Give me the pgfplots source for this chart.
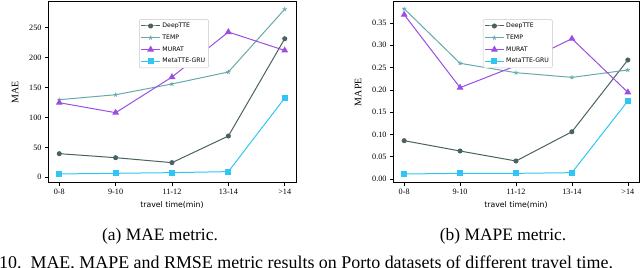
\documentclass[border=0pt]{standalone}
\usepackage{pgfplots}
\pgfplotsset{compat=1.18}
\usepackage{fontspec}
\setmainfont{Liberation Serif}
\setsansfont{DejaVu Sans}
\definecolor{cDeep}{HTML}{4A6262}
\definecolor{cTemp}{HTML}{66AAAA}
\definecolor{cMurat}{HTML}{9B4DE6}
\definecolor{cMeta}{HTML}{30C5F5}
\pgfplotsset{
  common/.style={
    scale only axis,
    xmin=-0.2, xmax=4.2,
    xtick={0,1,2,3,4},
    xticklabels={0-8,9-10,11-12,13-14,>14},
    tick align=outside,
    xtick pos=bottom, ytick pos=left,
    major tick length=3bp,
    tick style={line width=0.5bp, black},
    axis line style={line width=0.6bp},
    /pgf/number format/assume math mode=true,
    tick label style={font=\fontsize{8.2}{9}\selectfont},
    xlabel={travel time(min)},
    xlabel style={font=\fontsize{7.8}{9}\sffamily, at={(axis description cs:0.5,-0.085)}, anchor=north},
    ylabel style={font=\fontsize{10}{12}\selectfont, rotate=0},
    legend cell align=left,
    legend style={font=\fontsize{6.2}{7}\sffamily, draw=black!22, rounded corners=1.5bp,
      anchor=north west, inner sep=1.5bp, row sep=1.8bp, line width=0.5bp},
    legend image code/.code={
      \draw[mark repeat=2,mark phase=2] plot coordinates {(0cm,0cm) (0.33cm,0cm) (0.66cm,0cm)};
    },
    every axis plot/.append style={line width=1bp},
  },
  deep/.style={color=cDeep, mark=*, mark size=2bp},
  temp/.style={color=cTemp, mark=star, mark size=2.2bp, mark options={line width=0.8bp}},
  murat/.style={color=cMurat, mark=triangle*, mark size=3bp},
  meta/.style={color=cMeta, mark=square*, mark size=2.4bp},
}
\begin{document}
\begin{tikzpicture}
\useasboundingbox (0bp,0bp) rectangle (640bp,268bp);
\begin{axis}[common,
  at={(48bp,85.3bp)}, anchor=south west, width=248bp, height=181bp,
  ymin=-9, ymax=293.5, ytick={0,50,100,150,200,250},
  ylabel={MAE}, ylabel style={at={(axis description cs:-0.133,0.5)}, anchor=center},
  legend style={at={(0.367,0.903)}},
]
\addplot[deep] coordinates {(0,39.5) (1,32.8) (2,24.5) (3,69) (4,231.6)};
\addlegendentry{DeepTTE}
\addplot[temp] coordinates {(0,129.7) (1,138) (2,156) (3,176) (4,281)};
\addlegendentry{TEMP}
\addplot[murat] coordinates {(0,124.7) (1,108) (2,167.6) (3,242.8) (4,212)};
\addlegendentry{MURAT}
\addplot[meta] coordinates {(0,5.6) (1,6.7) (2,7.8) (3,9.5) (4,132.5)};
\addlegendentry{MetaTTE-GRU}
\end{axis}
\begin{axis}[common,
  at={(393bp,85.3bp)}, anchor=south west, width=246bp, height=181bp,
  ymin=-0.0083, ymax=0.3978, ytick={0,0.05,0.1,0.15,0.2,0.25,0.3,0.35},
  yticklabel style={/pgf/number format/.cd, fixed, fixed zerofill, precision=2},
  ylabel={MAPE}, ylabel style={at={(axis description cs:-0.142,0.5)}, anchor=center},
  legend style={at={(0.365,0.903)}},
]
\addplot[deep] coordinates {(0,0.086) (1,0.0628) (2,0.0404) (3,0.106) (4,0.267)};
\addlegendentry{DeepTTE}
\addplot[temp] coordinates {(0,0.382) (1,0.2596) (2,0.2385) (3,0.228) (4,0.2446)};
\addlegendentry{TEMP}
\addplot[murat] coordinates {(0,0.3687) (1,0.205) (2,0.254) (3,0.3148) (4,0.1945)};
\addlegendentry{MURAT}
\addplot[meta] coordinates {(0,0.0112) (1,0.0127) (2,0.0127) (3,0.0142) (4,0.175)};
\addlegendentry{MetaTTE-GRU}
\end{axis}
\node[anchor=base, font=\fontsize{17.5}{20}\selectfont] at (160bp,28bp) {(a) MAE metric.};
\node[anchor=base, font=\fontsize{17.5}{20}\selectfont] at (503bp,28bp) {(b) MAPE metric.};
\node[anchor=base west, inner sep=0pt, font=\fontsize{18}{20}\selectfont] at (-1bp,0bp) {10.\enspace MAE, MAPE and RMSE metric results on Porto datasets of different travel time.};
\end{tikzpicture}
\end{document}
